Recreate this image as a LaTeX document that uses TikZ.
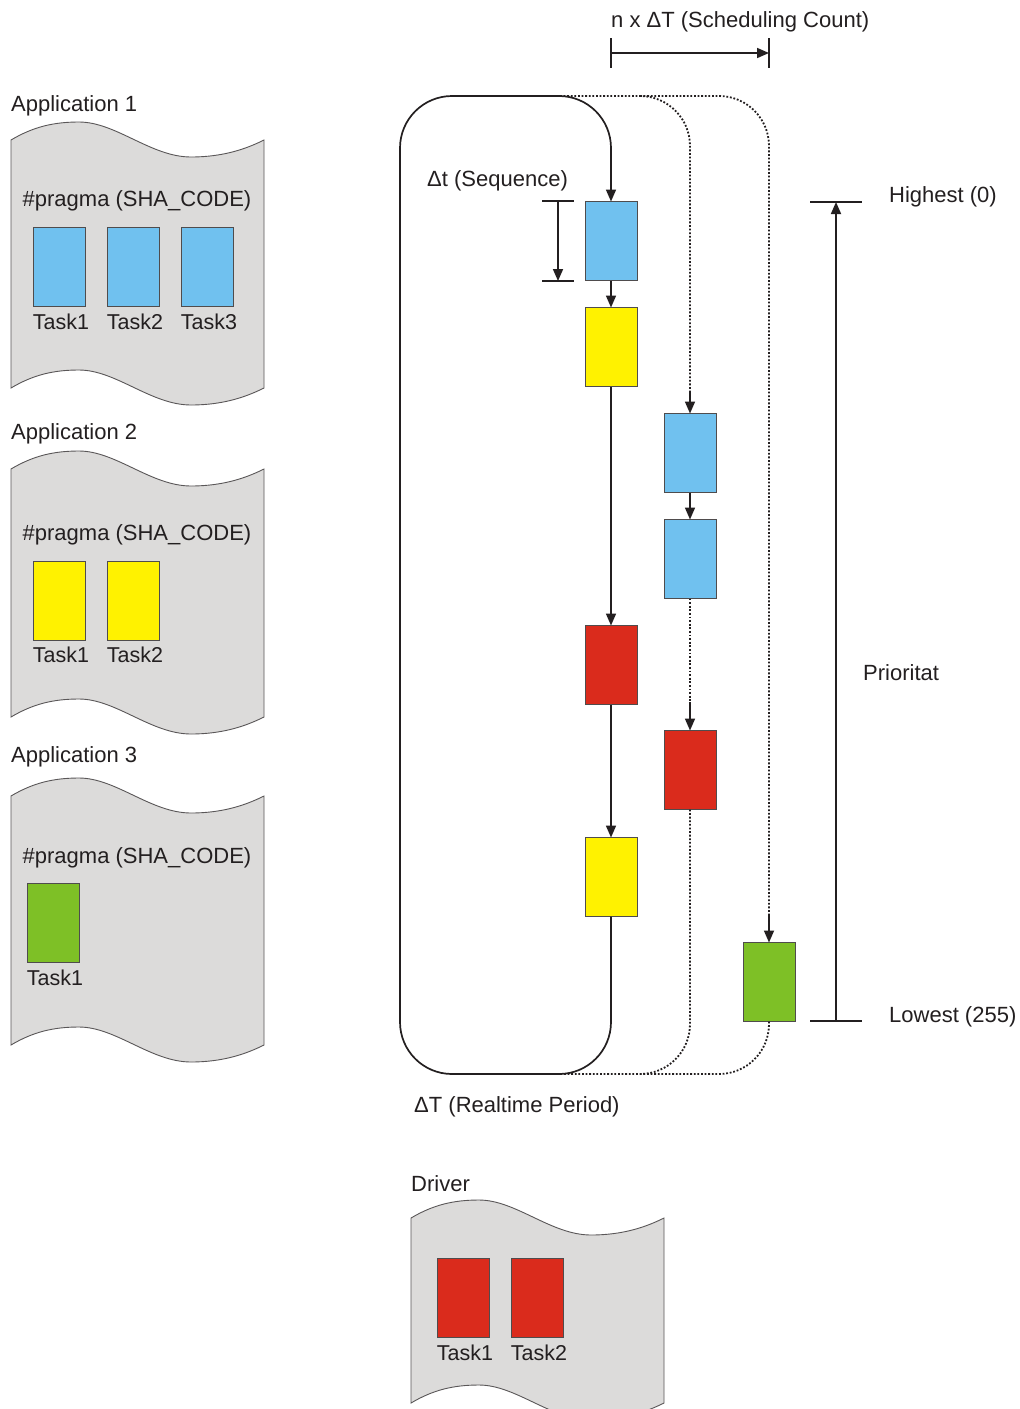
\documentclass[tikz,border=0pt]{standalone}
\usepackage{fontspec}
\setmainfont{Liberation Sans}
\usetikzlibrary{arrows.meta,calc}
\definecolor{txt}{HTML}{231F20}
\definecolor{docgray}{HTML}{DCDBDA}
\definecolor{tblue}{RGB}{112,193,239}
\definecolor{tyellow}{RGB}{255,242,0}
\definecolor{tred}{RGB}{218,43,28}
\definecolor{tgreen}{RGB}{126,192,38}
\newcommand\drawdoc[3]{%
  \filldraw[docline] (#1,#2) .. controls (#1+22,#2-13) and (#1+42,#2-18) .. (#1+68,#2-18)
    .. controls (#1+105,#2-18) and (#1+140,#2+17) .. (#1+180,#2+17)
    .. controls (#1+212,#2+17) and (#1+235,#2+9) .. (#1+253,#2)
    -- (#1+253,#2+#3)
    .. controls (#1+235,#2+#3+9) and (#1+212,#2+#3+17) .. (#1+180,#2+#3+17)
    .. controls (#1+140,#2+#3+17) and (#1+105,#2+#3-18) .. (#1+68,#2+#3-18)
    .. controls (#1+42,#2+#3-18) and (#1+22,#2+#3-13) .. (#1,#2+#3) -- cycle;}
\begin{document}
\begin{tikzpicture}[x=1pt,y=-1pt,
  every node/.style={font=\fontsize{22}{26}\selectfont, text=txt},
  txtnode/.style={inner sep=0pt, yshift=-3pt},
  lbl/.style={txtnode, anchor=west},
  task/.style={draw=txt!80, line width=0.9pt, minimum width=52pt, minimum height=79pt, inner sep=0pt, outer sep=0pt},
  tasklbl/.style={anchor=north, inner sep=0pt, yshift=-7pt, xshift=2pt, font=\fontsize{21.5}{24}\selectfont},
  docline/.style={fill=docgray, draw=txt!75, line width=0.9pt},
  line/.style={draw=txt, line width=1.7pt},
  arr/.style={line, -{Triangle[length=12pt,width=10pt]}},
  dotline/.style={draw=txt, line width=1.8pt, dash pattern=on 1.8pt off 1.8pt},
  tick/.style={line}]
\useasboundingbox (0,0) rectangle (1020,1409);
\fill[white] (0,0) rectangle (1020,1409);

% ---------------- documents ----------------
\drawdoc{11}{140}{248}
\drawdoc{11}{469}{248}
\drawdoc{11}{796}{249}
\drawdoc{411}{1218}{185}

\node[lbl] (app1) at (11,103) {Application 1};
\node[lbl] (app2) at (11,431) {Application 2};
\node[lbl] (app3) at (11,754) {Application 3};
\node[lbl] (drv) at (411,1181) {Driver};

\node[txtnode] (pr1) at (137,198) {\#pragma (SHA\_CODE)};
\node[txtnode] (pr2) at (137,532) {\#pragma (SHA\_CODE)};
\node[txtnode] (pr3) at (137,855) {\#pragma (SHA\_CODE)};

\node[task, fill=tblue] (a1t1) at (59,267) {};
\node[task, fill=tblue] (a1t2) at (133,267) {};
\node[task, fill=tblue] (a1t3) at (207,267) {};
\node[tasklbl] at (a1t1.south) {Task1};
\node[tasklbl] at (a1t2.south) {Task2};
\node[tasklbl] at (a1t3.south) {Task3};

\node[task, fill=tyellow] (a2t1) at (59,600.5) {};
\node[task, fill=tyellow] (a2t2) at (133,600.5) {};
\node[tasklbl] at (a2t1.south) {Task1};
\node[tasklbl] at (a2t2.south) {Task2};

\node[task, fill=tgreen] (a3t1) at (53,923) {};
\node[tasklbl] at (a3t1.south) {Task1};

\node[task, fill=tred] (d1) at (463,1298) {};
\node[task, fill=tred] (d2) at (537,1298) {};
\node[tasklbl] at (d1.south) {Task1};
\node[tasklbl] at (d2.south) {Task2};

% ---------------- schedule boxes ----------------
\node[task, fill=tblue]   (b1) at (611,241) {};
\node[task, fill=tyellow] (b2) at (611,347) {};
\node[task, fill=tred]    (b3) at (611,665) {};
\node[task, fill=tyellow] (b4) at (611,877) {};
\node[task, fill=tblue]   (c1) at (690,453) {};
\node[task, fill=tblue]   (c2) at (690,559) {};
\node[task, fill=tred]    (c3) at (690,770) {};
\node[task, fill=tgreen]  (g1) at (769,982) {};

% loop 1 (solid)
\coordinate (l1br) at (611,1074);
\coordinate (l1bl) at (400,1074);
\coordinate (l1tl) at (400,96);
\coordinate (l1tr) at (611,96);
\draw[arr, rounded corners=52pt] (b4.south) -- (l1br) -- (l1bl) -- (l1tl) -- (l1tr) -- (b1.north);
\draw[arr] (b1.south) -- (b2.north);
\draw[arr] (b2.south) -- (b3.north);
\draw[arr] (b3.south) -- (b4.north);

% loop 2 (dotted)
\coordinate (l2ts) at (560,96);
\coordinate (l2tr) at (690,96);
\coordinate (c1s) at (690,392);
\coordinate (l2br) at (690,1074);
\coordinate (l2be) at (560,1074);
\coordinate (c3s) at (690,702);
\draw[dotline, rounded corners=50pt] (l2ts) -- (l2tr) -- (c1s);
\draw[arr] (c1s) -- (c1.north);
\draw[arr] (c1.south) -- (c2.north);
\draw[dotline] (c2.south) -- (c3s);
\draw[arr] (c3s) -- (c3.north);
\draw[dotline, rounded corners=50pt] (c3.south) -- (l2br) -- (l2be);

% loop 3 (dotted)
\coordinate (l3ts) at (640,96);
\coordinate (l3tr) at (769,96);
\coordinate (g1s) at (769,914);
\coordinate (l3br) at (769,1074);
\coordinate (l3be) at (640,1074);
\draw[dotline, rounded corners=50pt] (l3ts) -- (l3tr) -- (g1s);
\draw[arr] (g1s) -- (g1.north);
\draw[dotline, rounded corners=50pt] (g1.south) -- (l3br) -- (l3be);

% n x DeltaT dimension
\coordinate (na1) at (611,38); \coordinate (na2) at (611,68);
\coordinate (nb1) at (769,38); \coordinate (nb2) at (769,68);
\coordinate (na) at (611,53); \coordinate (nb) at (769,53);
\draw[tick] (na1) -- (na2);
\draw[tick] (nb1) -- (nb2);
\draw[arr] (na) -- (nb);
\node[lbl] (nlbl) at (611,19) {n x ΔT (Scheduling Count)};

% Delta t dimension
\coordinate (dt1) at (542,201); \coordinate (dt2) at (574,201);
\coordinate (db1) at (542,281); \coordinate (db2) at (574,281);
\coordinate (dta) at (558,201); \coordinate (dtb) at (558,281);
\draw[tick] (dt1) -- (dt2);
\draw[tick] (db1) -- (db2);
\draw[arr] (dta) -- (dtb);
\node[lbl] (dtlbl) at (427,178) {Δt (Sequence)};

\node[lbl] (rtlbl) at (414,1104) {ΔT (Realtime Period)};

% priority
\coordinate (ph1) at (810,202); \coordinate (ph2) at (862,202);
\coordinate (pl1) at (810,1021); \coordinate (pl2) at (862,1021);
\coordinate (pa) at (836,1021); \coordinate (pb) at (836,202);
\draw[tick] (ph1) -- (ph2);
\draw[tick] (pl1) -- (pl2);
\draw[arr] (pa) -- (pb);
\node[lbl] (hi) at (889,194) {Highest (0)};
\node[lbl] (lo) at (889,1014) {Lowest (255)};
\node[lbl] (prio) at (863,670) {Prioritat};
\end{tikzpicture}
\end{document}
